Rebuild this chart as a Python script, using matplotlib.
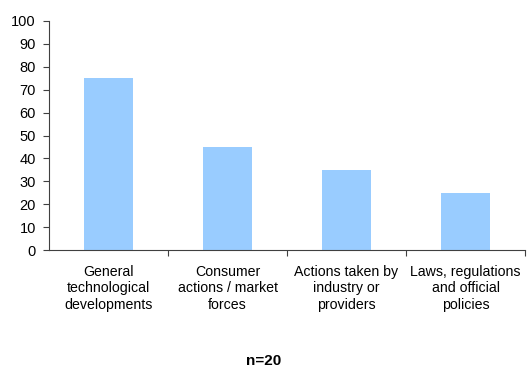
import matplotlib
matplotlib.use("Agg")
import matplotlib.pyplot as plt
import numpy as np

plt.rcParams['font.family'] = ['Liberation Sans', 'DejaVu Sans']

categories = [
    "General\ntechnological\ndevelopments",
    "Consumer\nactions / market\nforces",
    "Actions taken by\nindustry or\nproviders",
    "Laws, regulations\nand official\npolicies",
]
values = [75, 45, 35, 25]
y_ticks = [0, 10, 20, 30, 40, 50, 60, 70, 80, 90, 100]
note = "n=20"

fig = plt.figure(figsize=(5.30, 3.67), dpi=100)
ax = fig.add_axes([49 / 530, 1 - 250 / 367, 476 / 530, 229 / 367])

x = np.arange(len(categories))
ax.bar(x, values, width=0.41, color="#99CCFF", edgecolor="none")

ax.set_xlim(-0.5, len(categories) - 0.5)
ax.set_ylim(0, 100)
ax.set_yticks(y_ticks)
ax.tick_params(axis="y", labelsize=10.5, length=4.5, width=0.8, color="#404040", pad=5)

ax.set_xticks(x)
ax.set_xticklabels(categories, fontsize=10.2, linespacing=1.2)
ax.tick_params(axis="x", which="major", length=0, pad=11)
ax.set_xticks(np.arange(0.5, len(categories) - 0.4, 1), minor=True)
ax.tick_params(axis="x", which="minor", length=4.5, width=0.8, color="#404040")

for side in ("top", "right"):
    ax.spines[side].set_visible(False)
for side in ("left", "bottom"):
    ax.spines[side].set_color("#404040")
    ax.spines[side].set_linewidth(0.8)

fig.text(264 / 530, 1 - 361 / 367, note, ha="center", va="center",
         fontsize=11, fontweight="bold")

fig.savefig("out.png", dpi=100)
